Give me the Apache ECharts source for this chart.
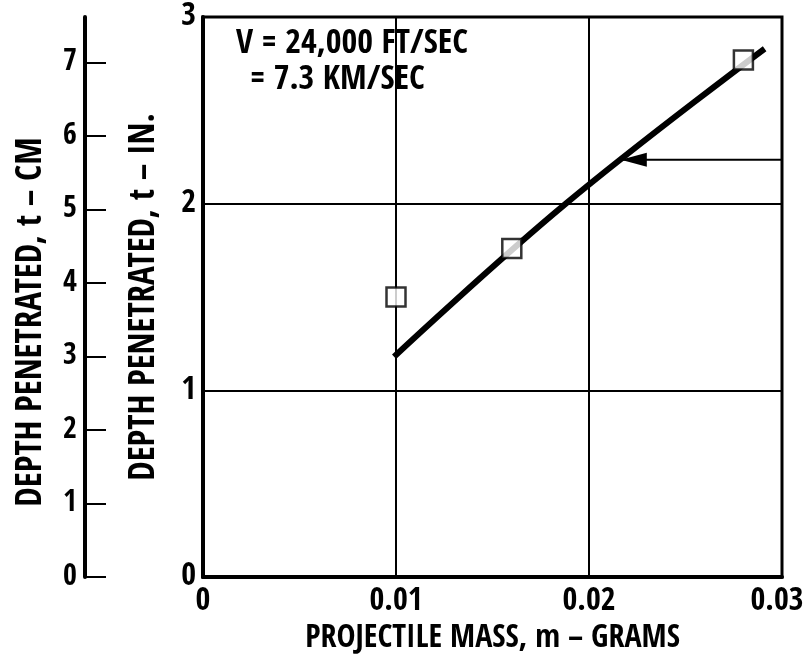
<!DOCTYPE html>
<html>
<head>
<meta charset="utf-8">
<script src="https://cdn.jsdelivr.net/npm/echarts@6/dist/echarts.min.js"></script>
<style>
html,body{margin:0;padding:0;background:#fff;}
#chart{width:803px;height:667px;}
</style>
</head>
<body>
<div id="chart"></div>
<script>
// Measured data points (projectile mass in grams, depth in inches)
var massPoints = [0.010, 0.016, 0.028];
var depthPoints = [1.50, 1.76, 2.77];
// Hand-drawn fitted line (start, middle, end)
var fitMass = [0.0099, 0.0188, 0.0291];
var fitDepth = [1.18, 2.00, 2.83];
// Arrow annotation (from right edge to tip)
var arrowMass = [0.0312, 0.0217];
var arrowDepth = [2.235, 2.235];
// Axis tick settings
var xTicks = [0, 0.01, 0.02, 0.03];
var inTicks = [0, 1, 2, 3];
var cmTicks = [0, 1, 2, 3, 4, 5, 6, 7];
var cmMax = 7.62; // 3 inches in cm
var annotLines = ['V = 24,000 FT/SEC', '= 7.3 KM/SEC'];

var FONT = "'Open Sans Condensed', 'Roboto Condensed', 'DejaVu Sans Condensed', sans-serif";
var chart = echarts.init(document.getElementById('chart'));
var xMax = xTicks[xTicks.length - 1];

var option = {
  animation: false,
  backgroundColor: '#fff',
  grid: {
    left: 203, right: 21, top: 17, bottom: 90, outerBoundsMode: 'none',
    show: true, borderColor: '#000', borderWidth: 3, backgroundColor: 'transparent'
  },
  xAxis: {
    type: 'value',
    min: xTicks[0], max: xMax, interval: 0.01,
    name: 'PROJECTILE MASS, m – GRAMS',
    nameLocation: 'middle', nameGap: 46,
    nameTextStyle: { fontFamily: FONT, fontSize: 32, fontWeight: 'bold', color: '#000' },
    axisLine: { show: true, lineStyle: { color: '#000', width: 4 } },
    axisTick: { show: false },
    axisLabel: {
      margin: 9, fontFamily: FONT, fontSize: 32, fontWeight: 'bold', color: '#000',
      formatter: function (v) {
        if (v === 0) return '0';
        var s = v.toFixed(2);
        return Math.abs(v - xMax) < 1e-9 ? '{r|' + s + '}' : s;
      },
      rich: { r: { fontFamily: FONT, fontSize: 32, fontWeight: 'bold', color: '#000', padding: [0, 10, 0, 0] } }
    },
    splitLine: { show: true, lineStyle: { color: '#000', width: 2 } }
  },
  yAxis: [
    {
      type: 'value',
      min: inTicks[0], max: inTicks[inTicks.length - 1], interval: 1,
      name: 'DEPTH PENETRATED, t – IN.',
      nameLocation: 'middle', nameGap: 41,
      nameTextStyle: { fontFamily: FONT, fontSize: 35, fontWeight: 'bold', color: '#000' },
      axisLine: { show: true, lineStyle: { color: '#000', width: 4 } },
      axisTick: { show: false },
      axisLabel: { margin: 7, fontFamily: FONT, fontSize: 32, fontWeight: 'bold', color: '#000' },
      splitLine: { show: true, lineStyle: { color: '#000', width: 2 } }
    },
    {
      type: 'value',
      position: 'left', offset: 118,
      min: cmTicks[0], max: cmMax, interval: 1,
      name: 'DEPTH PENETRATED, t – CM',
      nameLocation: 'middle', nameGap: 36,
      nameTextStyle: { fontFamily: FONT, fontSize: 35, fontWeight: 'bold', color: '#000', padding: [0, 50, 0, 0] },
      axisLine: { show: true, onZero: false, lineStyle: { color: '#000', width: 4 } },
      axisTick: { show: true, inside: true, length: 21, lineStyle: { color: '#000', width: 2 } },
      axisLabel: {
        margin: 8, fontFamily: FONT, fontSize: 30, fontWeight: 'bold', color: '#000',
        showMaxLabel: false,
        formatter: function (v) { return cmTicks.indexOf(v) >= 0 ? String(v) : ''; }
      },
      splitLine: { show: false }
    }
  ],
  graphic: [
    { type: 'text', left: 236, top: 27, z: 100,
      style: { text: annotLines[0], font: 'bold 34px ' + FONT, fill: '#000' } },
    { type: 'text', left: 250, top: 63, z: 100,
      style: { text: annotLines[1], font: 'bold 34px ' + FONT, fill: '#000' } }
  ],
  series: [
    {
      type: 'line',
      data: fitMass.map(function (m, i) { return [m, fitDepth[i]]; }),
      showSymbol: false, symbol: 'none', smooth: 0.4,
      lineStyle: { color: '#000', width: 6 },
      z: 3
    },
    {
      type: 'scatter',
      data: massPoints.map(function (m, i) { return [m, depthPoints[i]]; }),
      symbol: 'rect', symbolSize: 19,
      itemStyle: { color: '#fff', borderColor: '#000', borderWidth: 2.5 },
      z: 5
    },
    {
      type: 'line',
      data: arrowMass.map(function (m, i) { return [m, arrowDepth[i]]; }),
      showSymbol: false, clip: false,
      symbol: 'none',
      lineStyle: { color: '#000', width: 2 },
      markPoint: {
        symbol: 'triangle', symbolSize: [14, 26], symbolRotate: 90,
        itemStyle: { color: '#000' },
        label: { show: false },
        data: [{ coord: [arrowMass[1], arrowDepth[1]], symbolOffset: [12, 0] }]
      },
      z: 4
    }
  ]
};
chart.setOption(option);
</script>
</body>
</html>
